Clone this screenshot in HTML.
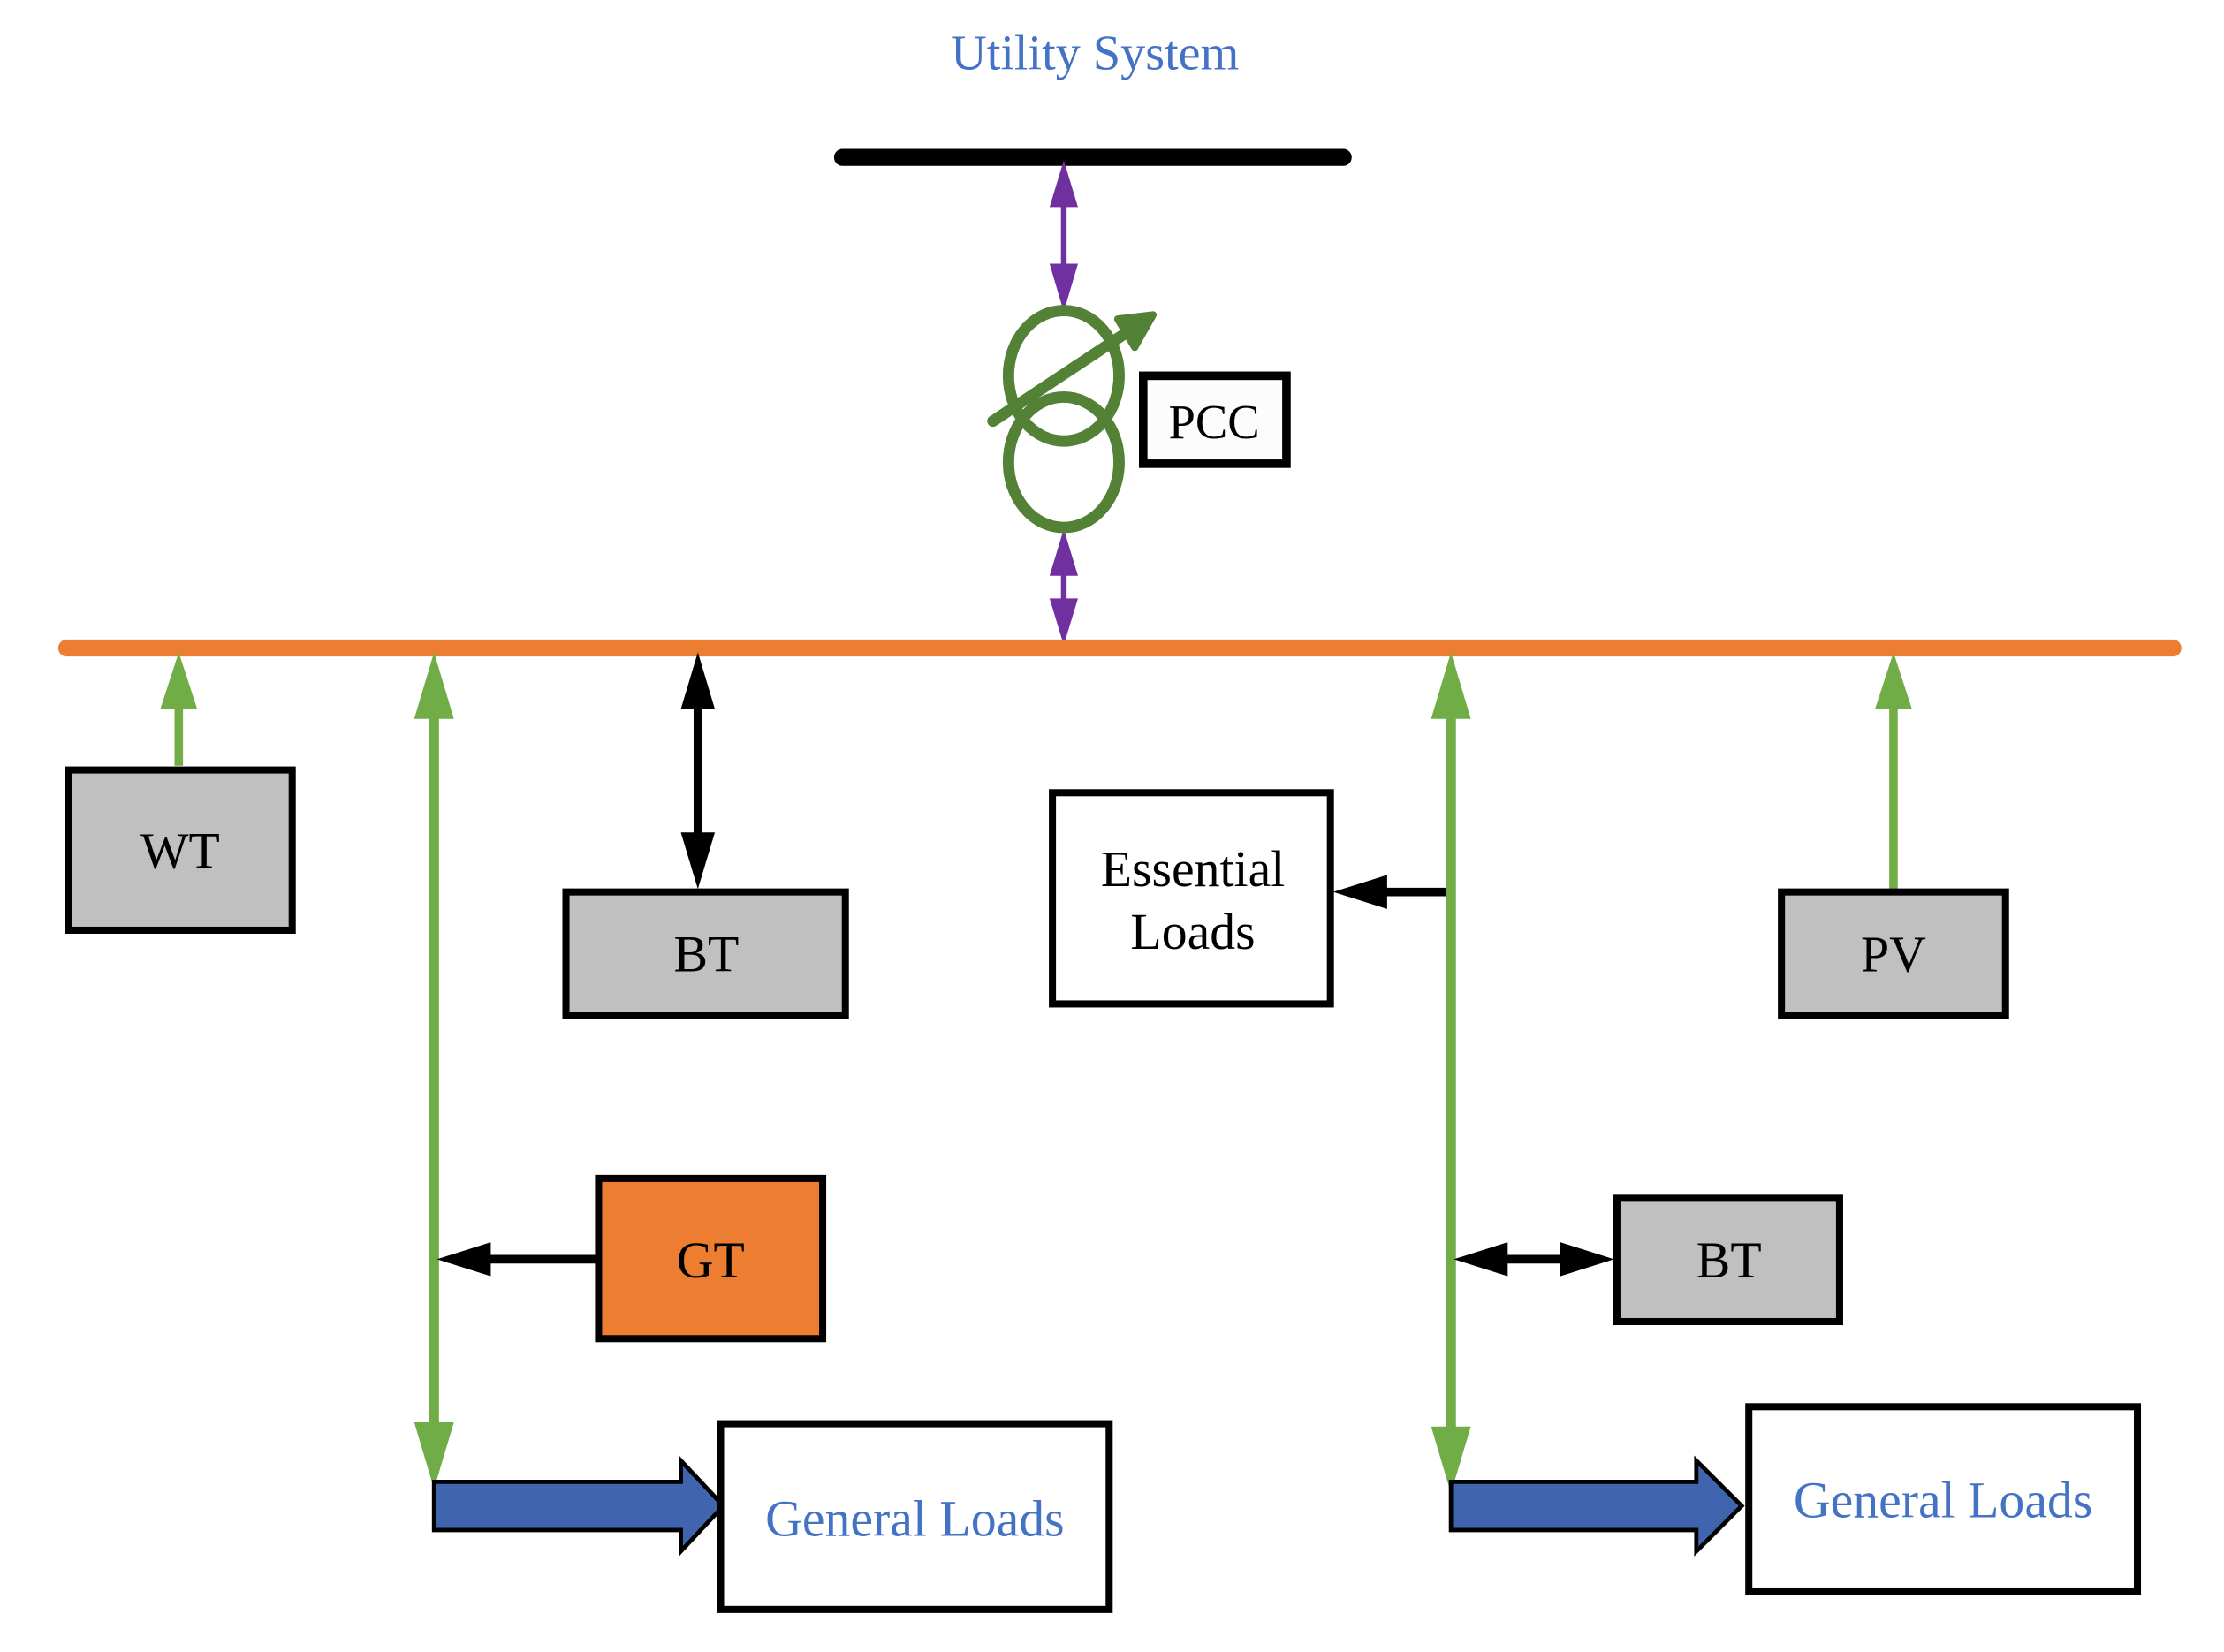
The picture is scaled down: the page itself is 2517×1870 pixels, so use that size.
<!DOCTYPE html>
<html><head><meta charset="utf-8"><style>
html,body{margin:0;padding:0;background:#fff;}
svg{display:block;}
text{font-family:"Liberation Serif",serif;}
</style></head><body>
<svg width="2517" height="1870" viewBox="0 0 1568 1165" xmlns="http://www.w3.org/2000/svg">
<text x="772" y="49" font-size="35" fill="#4472C4" text-anchor="middle">Utility System</text>
<line x1="594" y1="111" x2="947" y2="111" stroke="#000" stroke-width="12" stroke-linecap="round"/>
<line x1="750" y1="140" x2="750" y2="192" stroke="#7030A0" stroke-width="4"/>
<path d="M750,113 L740,146 L760,146 z M750,220 L740,186 L760,186 z" fill="#7030A0"/>
<line x1="750" y1="400" x2="750" y2="428" stroke="#7030A0" stroke-width="4"/>
<path d="M750,373 L740,406 L760,406 z M750,455 L740,422 L760,422 z" fill="#7030A0"/>
<ellipse cx="750" cy="265" rx="39" ry="46" fill="none" stroke="#538135" stroke-width="8"/>
<ellipse cx="750" cy="326" rx="39" ry="46" fill="none" stroke="#538135" stroke-width="8"/>
<line x1="700" y1="297" x2="795" y2="234" stroke="#538135" stroke-width="8" stroke-linecap="round"/>
<path d="M813,222 L788,225 L800,245 z" fill="#538135" stroke="#538135" stroke-width="5" stroke-linejoin="round"/>
<rect x="806" y="265" width="101" height="62" fill="#fbfcfb" stroke="#000" stroke-width="6"/>
<text x="856" y="309" font-size="34" text-anchor="middle">PCC</text>
<line x1="47" y1="457" x2="1532" y2="457" stroke="#ED7D31" stroke-width="12" stroke-linecap="round"/>
<line x1="126" y1="540" x2="126" y2="495" stroke="#70AD47" stroke-width="6"/>
<path d="M126,460 L113,500 L139,500 z" fill="#70AD47"/>
<rect x="48" y="543" width="158" height="113" fill="#C0C0C0" stroke="#000" stroke-width="5"/>
<text x="127" y="612" font-size="36" text-anchor="middle">WT</text>
<line x1="306" y1="495" x2="306" y2="1015" stroke="#70AD47" stroke-width="7"/>
<path d="M306,460 L292,507 L320,507 z M306,1050 L292,1003 L320,1003 z" fill="#70AD47"/>
<line x1="492" y1="490" x2="492" y2="595" stroke="#000" stroke-width="6"/>
<path d="M492,460 L480,500 L504,500 z M492,627 L480,587 L504,587 z" fill="#000"/>
<rect x="399" y="629" width="197" height="87" fill="#C0C0C0" stroke="#000" stroke-width="5"/>
<text x="498" y="685" font-size="36" text-anchor="middle">BT</text>
<line x1="420" y1="888" x2="340" y2="888" stroke="#000" stroke-width="6"/>
<path d="M308,888 L346,876 L346,900 z" fill="#000"/>
<rect x="422" y="831" width="158" height="113" fill="#ED7D31" stroke="#000" stroke-width="5"/>
<text x="501" y="901" font-size="36" text-anchor="middle">GT</text>
<path d="M306,1045 L480,1045 L480,1030 L510,1062 L480,1094 L480,1079 L306,1079 z" fill="#4064AD" stroke="#000" stroke-width="3"/>
<rect x="508" y="1004" width="274" height="131" fill="#fff" stroke="#000" stroke-width="5"/>
<text x="645" y="1083" font-size="36" fill="#4472C4" text-anchor="middle">General Loads</text>
<line x1="1025" y1="629" x2="972" y2="629" stroke="#000" stroke-width="6"/>
<path d="M940,629 L978,617 L978,641 z" fill="#000"/>
<rect x="742" y="559" width="196" height="149" fill="#fff" stroke="#000" stroke-width="5"/>
<text x="841" y="625" font-size="36" text-anchor="middle">Essential</text>
<text x="841" y="669" font-size="36" text-anchor="middle">Loads</text>
<line x1="1023" y1="495" x2="1023" y2="1018" stroke="#70AD47" stroke-width="7"/>
<path d="M1023,460 L1009,507 L1037,507 z M1023,1053 L1009,1006 L1037,1006 z" fill="#70AD47"/>
<line x1="1335" y1="627" x2="1335" y2="495" stroke="#70AD47" stroke-width="6"/>
<path d="M1335,460 L1322,500 L1348,500 z" fill="#70AD47"/>
<rect x="1256" y="629" width="158" height="87" fill="#C0C0C0" stroke="#000" stroke-width="5"/>
<text x="1335" y="685" font-size="36" text-anchor="middle">PV</text>
<line x1="1055" y1="888" x2="1108" y2="888" stroke="#000" stroke-width="6"/>
<path d="M1025,888 L1063,876 L1063,900 z M1138,888 L1100,876 L1100,900 z" fill="#000"/>
<rect x="1140" y="845" width="157" height="87" fill="#C0C0C0" stroke="#000" stroke-width="5"/>
<text x="1219" y="901" font-size="36" text-anchor="middle">BT</text>
<path d="M1023,1045 L1196,1045 L1196,1030 L1228,1062 L1196,1094 L1196,1079 L1023,1079 z" fill="#4064AD" stroke="#000" stroke-width="3"/>
<rect x="1233" y="992" width="274" height="130" fill="#fff" stroke="#000" stroke-width="5"/>
<text x="1370" y="1070" font-size="36" fill="#4472C4" text-anchor="middle">General Loads</text>
</svg>
</body></html>
